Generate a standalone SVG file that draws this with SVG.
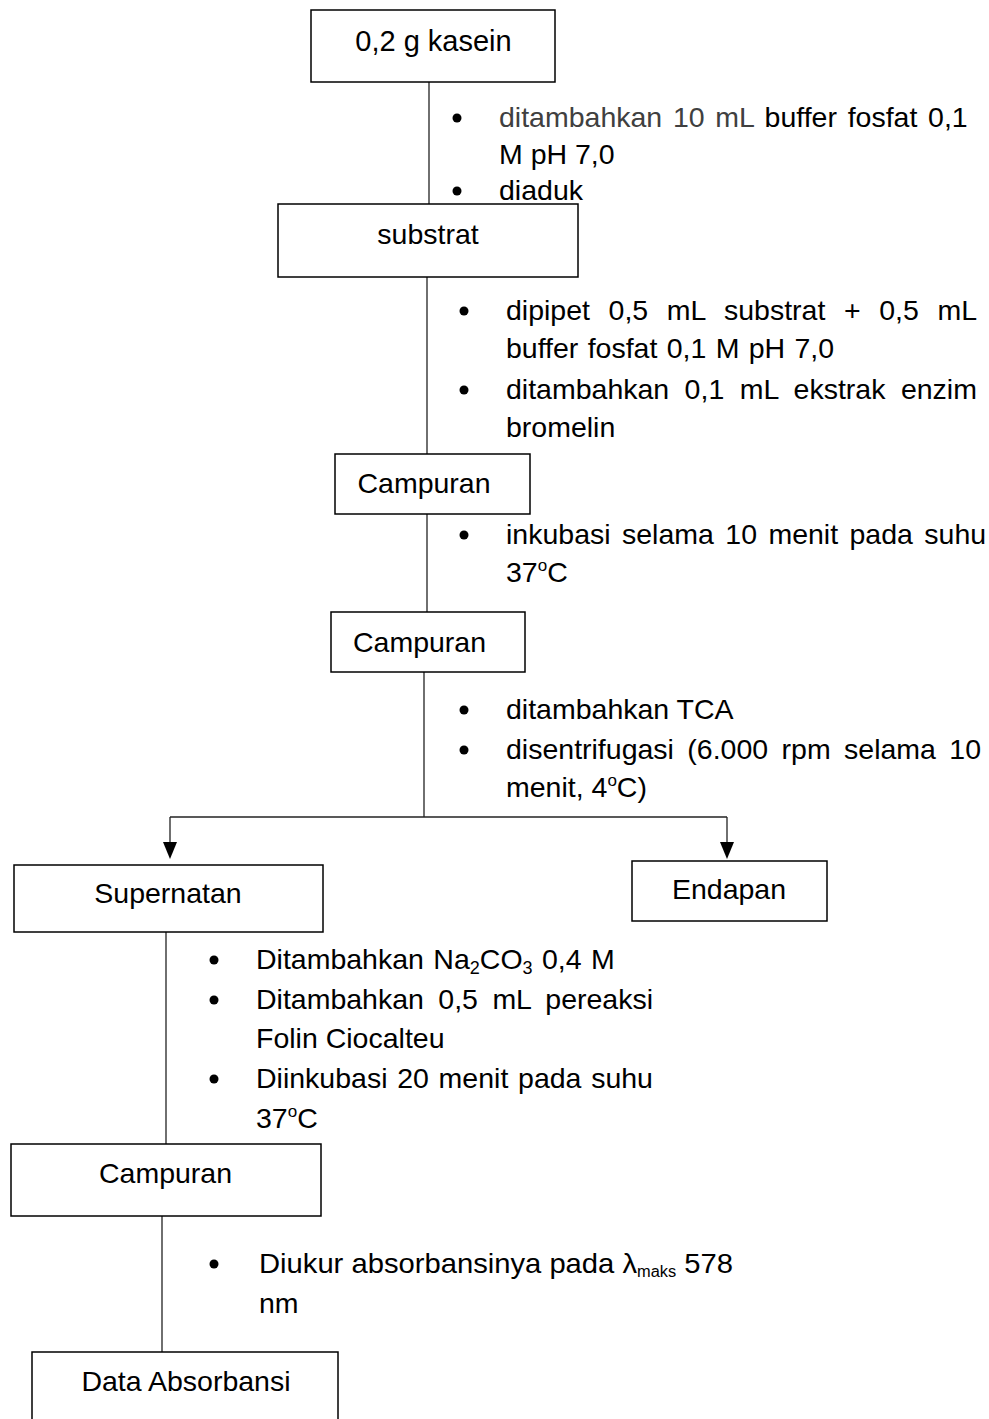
<svg xmlns="http://www.w3.org/2000/svg" width="989" height="1419" viewBox="0 0 989 1419">
<style>
.box{fill:#fff;stroke:#000;stroke-width:1.5}
.ln{stroke:#222;stroke-width:1.3;fill:none}
.t{font-family:"Liberation Sans",Arial,sans-serif;fill:#000}
.c{font-size:28.5px}
.m{text-anchor:middle}
.b{fill:#000}
</style>
<g id="connectors">
<line class="ln" x1="429" y1="82" x2="429" y2="204"/>
<line class="ln" x1="427" y1="277" x2="427" y2="454"/>
<line class="ln" x1="427" y1="514" x2="427" y2="612"/>
<line class="ln" x1="424" y1="672" x2="424" y2="817"/>
<line class="ln" x1="170" y1="817" x2="727" y2="817"/>
<line class="ln" x1="170" y1="817" x2="170" y2="842"/>
<line class="ln" x1="727" y1="817" x2="727" y2="842"/>
<path d="M163,842 L177,842 L170,859 Z" class="b"/>
<path d="M720,842 L734,842 L727,859 Z" class="b"/>
<line class="ln" x1="166" y1="932" x2="166" y2="1144"/>
<line class="ln" x1="162" y1="1216" x2="162" y2="1352"/>
</g>
<g id="n1">
<rect class="box" x="311" y="10" width="244" height="72"/>
<text class="t m" font-size="29" x="433.5" y="51">0,2 g kasein</text>
</g>
<g id="step1">
<circle class="b" cx="457" cy="118" r="4.5"/>
<text class="t c" x="499" y="127" word-spacing="2.8"><tspan fill="#404040">ditambahkan 10 mL</tspan> buffer fosfat 0,1</text>
<text class="t c" x="499" y="164">M pH 7,0</text>
<circle class="b" cx="457" cy="191" r="4.5"/>
<text class="t c" x="499" y="200">diaduk</text>
</g>
<g id="n2">
<rect class="box" x="278" y="204" width="300" height="73"/>
<text class="t c m" x="428" y="244">substrat</text>
</g>
<g id="step2">
<circle class="b" cx="464" cy="311" r="4.5"/>
<text class="t c" x="506" y="320" word-spacing="10.7">dipipet 0,5 mL substrat + 0,5 mL</text>
<text class="t c" x="506" y="358" word-spacing="1.4">buffer fosfat 0,1 M pH 7,0</text>
<circle class="b" cx="464" cy="390" r="4.5"/>
<text class="t c" x="506" y="399" word-spacing="7.5">ditambahkan 0,1 mL ekstrak enzim</text>
<text class="t c" x="506" y="437">bromelin</text>
</g>
<g id="n3">
<rect class="box" x="335" y="454" width="195" height="60"/>
<text class="t c m" x="424" y="493">Campuran</text>
</g>
<g id="step3">
<circle class="b" cx="464" cy="535" r="4.5"/>
<text class="t c" x="506" y="544" word-spacing="3.5">inkubasi selama 10 menit pada suhu</text>
<text class="t c" x="506" y="582">37<tspan font-size="17" dy="-11">o</tspan><tspan dy="11">C</tspan></text>
</g>
<g id="n4">
<rect class="box" x="331" y="612" width="194" height="60"/>
<text class="t c m" x="419.5" y="652">Campuran</text>
</g>
<g id="step4">
<circle class="b" cx="464" cy="710" r="4.5"/>
<text class="t c" x="506" y="719">ditambahkan TCA</text>
<circle class="b" cx="464" cy="750" r="4.5"/>
<text class="t c" x="506" y="759" word-spacing="5.5">disentrifugasi (6.000 rpm selama 10</text>
<text class="t c" x="506" y="797">menit, 4<tspan font-size="17" dy="-11">o</tspan><tspan dy="11">C)</tspan></text>
</g>
<g id="n5">
<rect class="box" x="14" y="865" width="309" height="67"/>
<text class="t c m" x="168" y="903">Supernatan</text>
</g>
<g id="n6">
<rect class="box" x="632" y="861" width="195" height="60"/>
<text class="t c m" x="729" y="899">Endapan</text>
</g>
<g id="step5">
<circle class="b" cx="214" cy="960" r="4.5"/>
<text class="t c" x="256" y="969" word-spacing="1.5">Ditambahkan Na<tspan font-size="18" dy="5">2</tspan><tspan dy="-5">CO</tspan><tspan font-size="18" dy="5">3</tspan><tspan dy="-5"> 0,4 M</tspan></text>
<circle class="b" cx="214" cy="1000" r="4.5"/>
<text class="t c" x="256" y="1009" word-spacing="6.5">Ditambahkan 0,5 mL pereaksi</text>
<text class="t c" x="256" y="1048">Folin Ciocalteu</text>
<circle class="b" cx="214" cy="1079" r="4.5"/>
<text class="t c" x="256" y="1088" word-spacing="1.8">Diinkubasi 20 menit pada suhu</text>
<text class="t c" x="256" y="1128">37<tspan font-size="17" dy="-11">o</tspan><tspan dy="11">C</tspan></text>
</g>
<g id="n7">
<rect class="box" x="11" y="1144" width="310" height="72"/>
<text class="t c m" x="165.5" y="1183">Campuran</text>
</g>
<g id="step6">
<circle class="b" cx="214" cy="1264" r="4.5"/>
<text class="t c" x="259" y="1273" textLength="474" lengthAdjust="spacingAndGlyphs">Diukur absorbansinya pada λ<tspan font-size="16" dy="4">maks</tspan><tspan dy="-4"> 578</tspan></text>
<text class="t c" x="259" y="1313">nm</text>
</g>
<g id="n8">
<rect class="box" x="32" y="1352" width="306" height="90"/>
<text class="t c m" x="186" y="1391">Data Absorbansi</text>
</g>
</svg>
